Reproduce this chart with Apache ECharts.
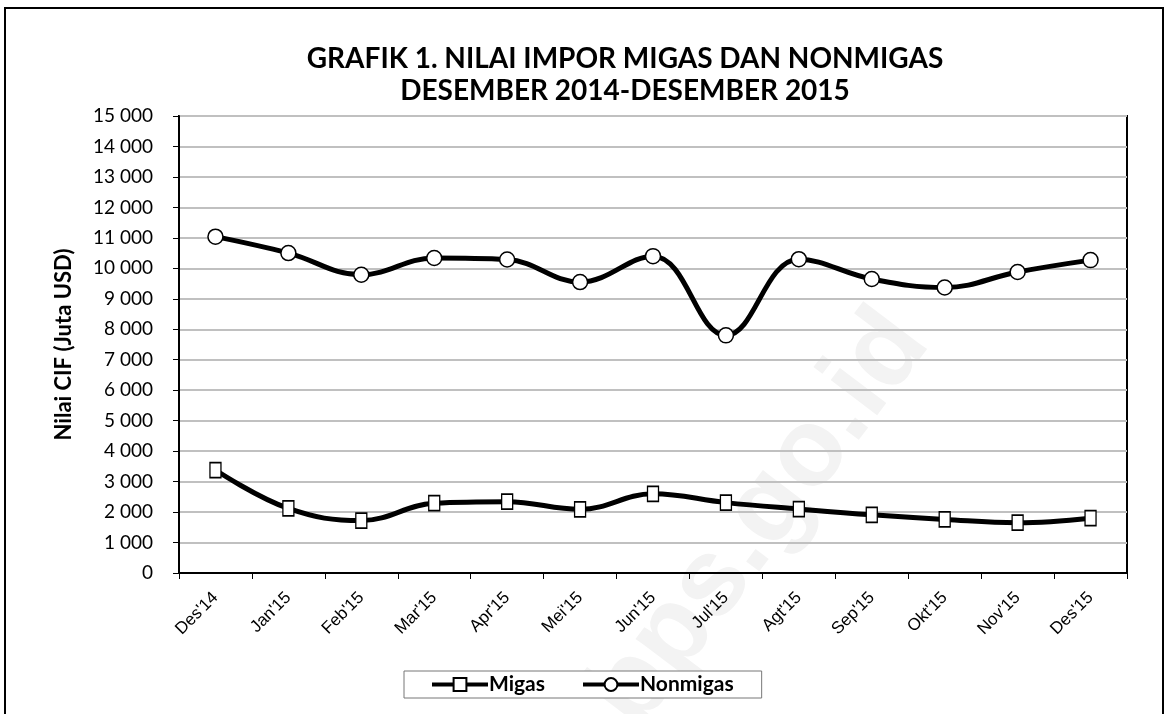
<!DOCTYPE html>
<html>
<head>
<meta charset="utf-8">
<script src="https://cdn.jsdelivr.net/npm/echarts@6/dist/echarts.min.js"></script>
<style>
  html, body { margin: 0; padding: 0; background: #fff; }
  #chart { width: 1168px; height: 714px; }
</style>
</head>
<body>
<div id="chart"></div>
<script>
// data
const months = ["Des'14", "Jan'15", "Feb'15", "Mar'15", "Apr'15", "Mei'15", "Jun'15",
  "Jul'15", "Agt'15", "Sep'15", "Okt'15", "Nov'15", "Des'15"]
const migas = [3380, 2120, 1720, 2290, 2340, 2090, 2600, 2310, 2100, 1910, 1760, 1650, 1800]
const nonmigas = [11040, 10500, 9790, 10340, 10290, 9550, 10400, 7800, 10300, 9650, 9370, 9880, 10270]
const titleLines = ['GRAFIK 1. NILAI IMPOR MIGAS DAN NONMIGAS', 'DESEMBER 2014-DESEMBER 2015']

const font = 'Lato'
const chart = echarts.init(document.getElementById('chart'))

function fmt (v) {
  return String(v).replace(/\B(?=(\d{3})+(?!\d))/g, ' ')
}

chart.setOption({
  animation: false,
  title: {
    text: titleLines.join('\n'),
    left: 620,
    textAlign: 'center',
    top: 38,
    textStyle: {
      fontFamily: font,
      fontWeight: 'bold',
      fontSize: 28,
      lineHeight: 32,
      color: '#000'
    }
  },
  graphic: [
    {
      type: 'rect',
      shape: { x: 5, y: 8, width: 1158, height: 712 },
      style: { fill: 'none', stroke: '#000', lineWidth: 2 },
      z: 0
    },
    {
      type: 'text',
      x: 760,
      y: 520,
      rotation: Math.PI / 3.4,
      style: {
        text: 'bps.go.id',
        font: 'bold 110px Arial',
        fill: '#f3f3f3',
        align: 'center',
        verticalAlign: 'middle'
      },
      z: -10
    }
  ],
  grid: {
    left: 179,
    right: 41,
    top: 116,
    bottom: 141,
    show: true,
    borderColor: '#000',
    borderWidth: 2
  },
  legend: {
    top: 671,
    left: 404,
    data: ['Migas', 'Nonmigas'],
    itemWidth: 56,
    itemHeight: 16,
    itemGap: 36,
    padding: [3, 28, 3, 26],
    borderColor: '#777',
    borderWidth: 1,
    backgroundColor: '#fff',
    lineStyle: { width: 4 },
    textStyle: {
      fontFamily: font,
      fontWeight: 'bold',
      fontSize: 21,
      color: '#000',
      padding: [0, 0, 0, -4]
    }
  },
  xAxis: {
    type: 'category',
    data: months,
    boundaryGap: true,
    axisLine: { lineStyle: { color: '#000', width: 2 } },
    axisTick: { show: true, length: 6, lineStyle: { color: '#000', width: 1 } },
    axisLabel: {
      rotate: 45,
      margin: 22,
      fontFamily: 'Arial',
      fontSize: 17,
      color: '#000'
    }
  },
  yAxis: {
    type: 'value',
    min: 0,
    max: 15000,
    interval: 1000,
    name: 'Nilai CIF (Juta USD)',
    nameLocation: 'middle',
    nameGap: 104,
    nameTextStyle: {
      fontFamily: font,
      fontWeight: 'bold',
      fontSize: 22,
      color: '#000'
    },
    axisLine: { show: true, lineStyle: { color: '#000', width: 2 } },
    axisTick: { show: true, length: 6, lineStyle: { color: '#000', width: 1 } },
    axisLabel: {
      formatter: fmt,
      margin: 26,
      fontFamily: font,
      fontSize: 19,
      color: '#000'
    },
    splitLine: { lineStyle: { color: '#c0c0c0', width: 2 } }
  },
  series: [
    {
      name: 'Migas',
      type: 'line',
      data: migas,
      smooth: 0.4,
      symbol: 'rect',
      symbolSize: [11, 15],
      lineStyle: { color: '#000', width: 5 },
      itemStyle: { color: '#fff', borderColor: '#000', borderWidth: 1.5 },
      z: 3
    },
    {
      name: 'Nonmigas',
      type: 'line',
      data: nonmigas,
      smooth: 0.4,
      symbol: 'circle',
      symbolSize: 15,
      lineStyle: { color: '#000', width: 5 },
      itemStyle: { color: '#fff', borderColor: '#000', borderWidth: 1.5 },
      z: 3
    }
  ]
})
</script>
</body>
</html>
